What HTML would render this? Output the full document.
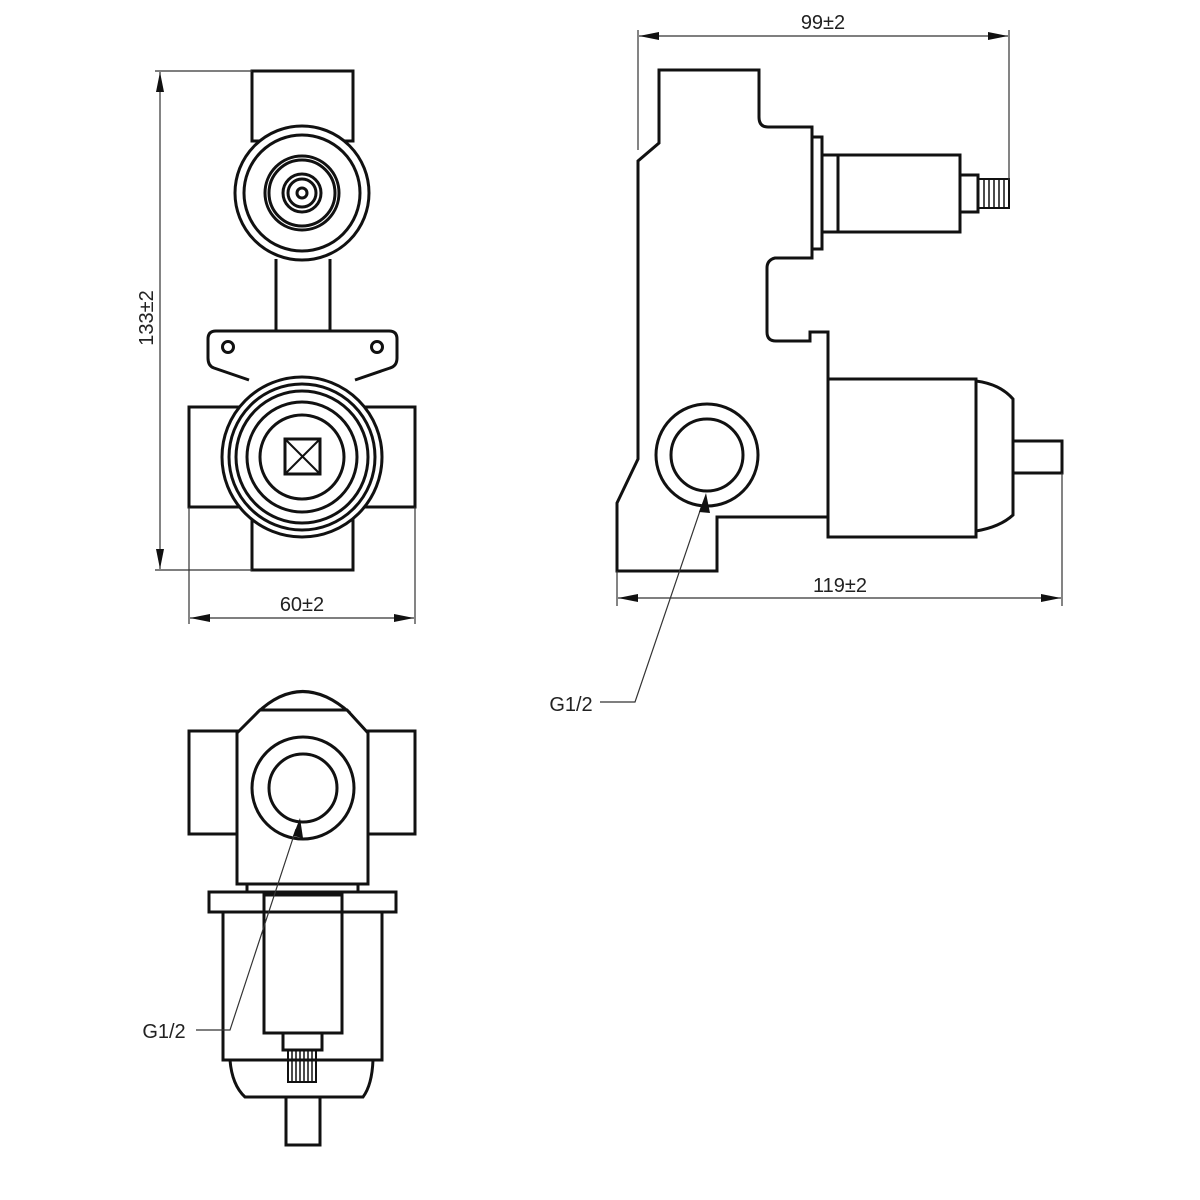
<!DOCTYPE html>
<html><head><meta charset="utf-8"><style>
html,body{margin:0;padding:0;background:#fff;}
svg{display:block;}
text{font-family:"Liberation Sans",sans-serif;font-size:20px;fill:#222;}
</style></head><body>
<svg width="1200" height="1200" viewBox="0 0 1200 1200" xmlns="http://www.w3.org/2000/svg">
<defs>
<marker id="ar" viewBox="0 0 20 8" refX="20" refY="4" markerWidth="20" markerHeight="8" markerUnits="userSpaceOnUse" orient="auto-start-reverse"><path d="M20,4 L0,0 L0,8 Z" fill="#111"/></marker>
</defs>
<g fill="none" stroke="#111" stroke-width="3">
<rect x="252" y="71" width="101" height="70" fill="#fff"/>
<circle cx="302" cy="193" r="67" fill="#fff"/>
<circle cx="302" cy="193" r="58"/>
<circle cx="302" cy="193" r="37"/>
<circle cx="302" cy="193" r="33"/>
<circle cx="302" cy="193" r="19"/>
<circle cx="302" cy="193" r="14"/>
<circle cx="302" cy="193" r="5"/>
<path d="M276,259 V331 M330,259 V331"/>
<path d="M216,331 H389 Q397,331 397,339 V358 Q397,366 390,368 L355,380 M249,380 L214,368 Q208,366 208,358 V339 Q208,331 216,331" fill="#fff"/>
<circle cx="228" cy="347" r="5.5"/>
<circle cx="377" cy="347" r="5.5"/>
<rect x="189" y="407" width="226" height="100" fill="#fff"/>
<rect x="252" y="440" width="101" height="130" fill="#fff"/>
<circle cx="302" cy="457" r="80" fill="#fff"/>
<circle cx="302" cy="457" r="73"/>
<circle cx="302" cy="457" r="66"/>
<circle cx="302" cy="457" r="55"/>
<circle cx="302" cy="457" r="42"/>
<rect x="285" y="439" width="35" height="35"/>
<path d="M285,439 L320,474 M320,439 L285,474" stroke-width="2"/>

<path d="M659,70 H759 V117 Q759,127 768,127 H812 V258 H775 Q767,260 767,268 V332 Q767,341 776,341 H810 V332 H828 V517 H717 V571 H617 V503 L638,459 V161 L659,143 Z" fill="#fff"/>
<rect x="812" y="137" width="10" height="112"/>
<rect x="822" y="155" width="138" height="77"/>
<path d="M838,155 V232"/>
<rect x="960" y="175" width="18" height="37"/>
<rect x="978" y="179" width="31" height="29" stroke-width="2"/>
<path d="M984,179 V208 M989,179 V208 M994,179 V208 M999,179 V208 M1004,179 V208" stroke-width="1.5"/>
<rect x="828" y="379" width="148" height="158" fill="#fff"/>
<path d="M976,381 Q1000,384 1013,399 V515 Q1000,527 976,531"/>
<rect x="1013" y="441" width="49" height="32"/>
<circle cx="707" cy="455" r="51" fill="#fff"/>
<circle cx="707" cy="455" r="36"/>

<rect x="189" y="731" width="48" height="103"/>
<rect x="368" y="731" width="47" height="103"/>
<path d="M257,713 Q302,670 350,713"/>
<path d="M237,733 L260,710 H347 L368,733 V884 H237 Z" fill="#fff"/>
<circle cx="303" cy="788" r="51"/>
<circle cx="303" cy="788" r="34"/>
<rect x="247" y="884" width="111" height="11"/>
<rect x="209" y="892" width="187" height="20" fill="#fff"/>
<rect x="223" y="912" width="159" height="148"/>
<rect x="264" y="895" width="78" height="138"/>
<rect x="283" y="1033" width="39" height="17"/>
<path d="M230,1060 Q232,1085 245,1097 H363 Q372,1085 373,1060"/>
<rect x="288" y="1050" width="28" height="32" stroke-width="2"/>
<path d="M292,1050 V1082 M296,1050 V1082 M300,1050 V1082 M304,1050 V1082 M308,1050 V1082 M312,1050 V1082" stroke-width="1.5"/>
<rect x="286" y="1097" width="34" height="48"/>
</g>

<g fill="none" stroke="#333" stroke-width="1.2">
<path d="M155,71 H252 M155,570 H252"/>
<path d="M160,72 V569" marker-start="url(#ar)" marker-end="url(#ar)"/>
<path d="M189,507 V624 M415,507 V624"/>
<path d="M190,618 H414" marker-start="url(#ar)" marker-end="url(#ar)"/>
<path d="M638,30 V150 M1009,30 V180"/>
<path d="M639,36 H1008" marker-start="url(#ar)" marker-end="url(#ar)"/>
<path d="M617,571 V606 M1062,473 V606"/>
<path d="M618,598 H1061" marker-start="url(#ar)" marker-end="url(#ar)"/>
<path d="M600,702 H635 L702,505"/>
<path d="M196,1030 H230 L296,829"/>
</g>
<path d="M706,493 L699,512 L710,513 Z" fill="#111"/>
<path d="M300,818 L293,836 L303,838 Z" fill="#111"/>

<text x="302" y="611" text-anchor="middle">60±2</text>
<text transform="translate(153,318) rotate(-90)" text-anchor="middle">133±2</text>
<text x="823" y="29" text-anchor="middle">99±2</text>
<text x="840" y="592" text-anchor="middle">119±2</text>
<text x="571" y="711" text-anchor="middle">G1/2</text>
<text x="164" y="1038" text-anchor="middle">G1/2</text>
</svg>
</body></html>
